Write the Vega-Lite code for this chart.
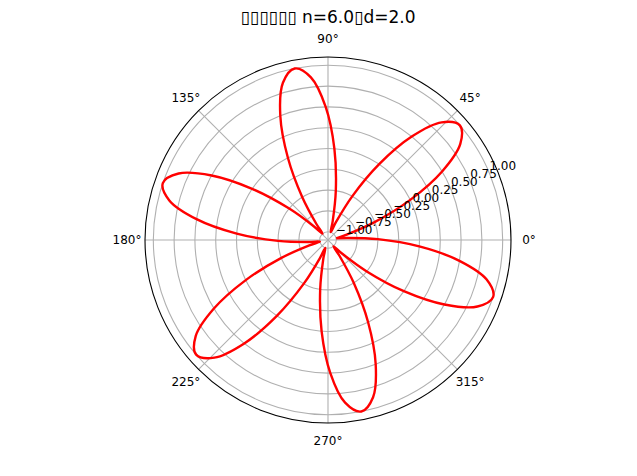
{
  "$schema": "https://vega.github.io/schema/vega-lite/v6.json",
  "width": 366,
  "height": 366,
  "autosize": {"type": "none"},
  "padding": {"left": 145, "top": 57, "right": 126, "bottom": 53},
  "background": "white",
  "config": {"view": {"stroke": null}, "font": "DejaVu Sans"},
  "title": {"text": "▯▯▯▯▯▯ n=6.0▯d=2.0", "font": "DejaVu Sans", "fontSize": 17, "fontWeight": "normal", "color": "#000000", "offset": 6},
  "datasets": {
    "rings": [{"r": -1.0}, {"r": -0.75}, {"r": -0.5}, {"r": -0.25}, {"r": 0.0}, {"r": 0.25}, {"r": 0.5}, {"r": 0.75}, {"r": 1.0}],
    "ticks": [
      {"r": -1.0, "label": "−1.00"}, {"r": -0.75, "label": "−0.75"}, {"r": -0.5, "label": "−0.50"},
      {"r": -0.25, "label": "−0.25"}, {"r": 0.0, "label": "0.00"}, {"r": 0.25, "label": "0.25"},
      {"r": 0.5, "label": "0.50"}, {"r": 0.75, "label": "0.75"}, {"r": 1.0, "label": "1.00"}
    ],
    "spokes": [
      {"x1": -2.2, "y1": 0, "x2": 2.2, "y2": 0},
      {"x1": 0, "y1": -2.2, "x2": 0, "y2": 2.2},
      {"x1": -1.5556, "y1": -1.5556, "x2": 1.5556, "y2": 1.5556},
      {"x1": -1.5556, "y1": 1.5556, "x2": 1.5556, "y2": -1.5556}
    ],
    "angles": [
      {"angle": 0, "label": "0°"}, {"angle": 45, "label": "45°"}, {"angle": 90, "label": "90°"},
      {"angle": 135, "label": "135°"}, {"angle": 180, "label": "180°"}, {"angle": 225, "label": "225°"},
      {"angle": 270, "label": "270°"}, {"angle": 315, "label": "315°"}
    ],
    "rose": [
      {"i": 0, "x": 0.0982, "y": 0.0191}, {"i": 1, "x": 0.2249, "y": 0.0645}, {"i": 2, "x": 0.5601, "y": 0.2150},
      {"i": 3, "x": 0.9887, "y": 0.4822}, {"i": 4, "x": 1.3715, "y": 0.8241}, {"i": 5, "x": 1.5905, "y": 1.1556},
      {"i": 6, "x": 1.5849, "y": 1.3777}, {"i": 7, "x": 1.3657, "y": 1.4142}, {"i": 8, "x": 1.0069, "y": 1.2434},
      {"i": 9, "x": 0.6151, "y": 0.9119}, {"i": 10, "x": 0.2909, "y": 0.5248}, {"i": 11, "x": 0.0952, "y": 0.2138},
      {"i": 12, "x": 0.0326, "y": 0.0946}, {"i": 13, "x": 0.0566, "y": 0.2271}, {"i": 14, "x": 0.0939, "y": 0.5926},
      {"i": 15, "x": 0.0767, "y": 1.0973}, {"i": 16, "x": -0.0279, "y": 1.5998}, {"i": 17, "x": -0.2055, "y": 1.9552},
      {"i": 18, "x": -0.4007, "y": 2.0614}, {"i": 19, "x": -0.5419, "y": 1.8898}, {"i": 20, "x": -0.5734, "y": 1.4937},
      {"i": 21, "x": -0.4822, "y": 0.9887}, {"i": 22, "x": -0.3090, "y": 0.5143}, {"i": 23, "x": -0.1375, "y": 0.1893},
      {"i": 24, "x": -0.0656, "y": 0.0755}, {"i": 25, "x": -0.1683, "y": 0.1626}, {"i": 26, "x": -0.4663, "y": 0.3776},
      {"i": 27, "x": -0.9119, "y": 0.6151}, {"i": 28, "x": -1.3994, "y": 0.7757}, {"i": 29, "x": -1.7960, "y": 0.7997},
      {"i": 30, "x": -1.9856, "y": 0.6837}, {"i": 31, "x": -1.9076, "y": 0.4756}, {"i": 32, "x": -1.5803, "y": 0.2503},
      {"i": 33, "x": -1.0973, "y": 0.0767}, {"i": 34, "x": -0.5999, "y": -0.0105}, {"i": 35, "x": -0.2327, "y": -0.0245},
      {"i": 36, "x": -0.0982, "y": -0.0191}, {"i": 37, "x": -0.2249, "y": -0.0645}, {"i": 38, "x": -0.5601, "y": -0.2150},
      {"i": 39, "x": -0.9887, "y": -0.4822}, {"i": 40, "x": -1.3715, "y": -0.8241}, {"i": 41, "x": -1.5905, "y": -1.1556},
      {"i": 42, "x": -1.5849, "y": -1.3777}, {"i": 43, "x": -1.3657, "y": -1.4142}, {"i": 44, "x": -1.0069, "y": -1.2434},
      {"i": 45, "x": -0.6151, "y": -0.9119}, {"i": 46, "x": -0.2909, "y": -0.5248}, {"i": 47, "x": -0.0952, "y": -0.2138},
      {"i": 48, "x": -0.0326, "y": -0.0946}, {"i": 49, "x": -0.0566, "y": -0.2271}, {"i": 50, "x": -0.0939, "y": -0.5926},
      {"i": 51, "x": -0.0767, "y": -1.0973}, {"i": 52, "x": 0.0279, "y": -1.5998}, {"i": 53, "x": 0.2055, "y": -1.9552},
      {"i": 54, "x": 0.4007, "y": -2.0614}, {"i": 55, "x": 0.5419, "y": -1.8898}, {"i": 56, "x": 0.5734, "y": -1.4937},
      {"i": 57, "x": 0.4822, "y": -0.9887}, {"i": 58, "x": 0.3090, "y": -0.5143}, {"i": 59, "x": 0.1375, "y": -0.1893},
      {"i": 60, "x": 0.0656, "y": -0.0755}, {"i": 61, "x": 0.1683, "y": -0.1626}, {"i": 62, "x": 0.4663, "y": -0.3776},
      {"i": 63, "x": 0.9119, "y": -0.6151}, {"i": 64, "x": 1.3994, "y": -0.7757}, {"i": 65, "x": 1.7960, "y": -0.7997},
      {"i": 66, "x": 1.9856, "y": -0.6837}, {"i": 67, "x": 1.9076, "y": -0.4756}, {"i": 68, "x": 1.5803, "y": -0.2503},
      {"i": 69, "x": 1.0973, "y": -0.0767}, {"i": 70, "x": 0.5999, "y": 0.0105}, {"i": 71, "x": 0.2327, "y": 0.0245},
      {"i": 72, "x": 0.0982, "y": 0.0191}
    ]
  },
  "layer": [
    {
      "data": {"name": "rings"},
      "mark": {"type": "arc", "theta": 0, "theta2": 6.2832, "filled": false, "stroke": "#b0b0b0", "strokeWidth": 1.1},
      "encoding": {
        "radius": {"field": "r", "type": "quantitative", "stack": null, "scale": {"type": "linear", "domain": [-1.1, 1.1], "range": [0, 183], "zero": false, "nice": false}},
        "radius2": {"datum": -1.1}
      }
    },
    {
      "data": {"name": "spokes"},
      "mark": {"type": "rule", "stroke": "#b0b0b0", "strokeWidth": 1.1},
      "encoding": {
        "x": {"field": "x1", "type": "quantitative", "scale": {"domain": [-2.2, 2.2], "nice": false, "zero": false}, "axis": null},
        "y": {"field": "y1", "type": "quantitative", "scale": {"domain": [-2.2, 2.2], "nice": false, "zero": false}, "axis": null},
        "x2": {"field": "x2"},
        "y2": {"field": "y2"}
      }
    },
    {
      "data": {"values": [{"edge": 1.1}]},
      "mark": {"type": "arc", "theta": 0, "theta2": 6.2832, "filled": false, "stroke": "#000000", "strokeWidth": 1.1},
      "encoding": {
        "radius": {"field": "edge", "type": "quantitative", "stack": null, "scale": {"type": "linear", "domain": [-1.1, 1.1], "range": [0, 183], "zero": false, "nice": false}},
        "radius2": {"datum": -1.1}
      }
    },
    {
      "data": {"name": "rose"},
      "mark": {"type": "line", "interpolate": "catmull-rom", "stroke": "#ff0000", "strokeWidth": 2.4},
      "encoding": {
        "x": {"field": "x", "type": "quantitative", "scale": {"domain": [-2.2, 2.2], "nice": false, "zero": false}, "axis": null},
        "y": {"field": "y", "type": "quantitative", "scale": {"domain": [-2.2, 2.2], "nice": false, "zero": false}, "axis": null},
        "order": {"field": "i", "type": "quantitative"}
      }
    },
    {
      "data": {"name": "angles"},
      "mark": {"type": "text", "font": "DejaVu Sans", "fontSize": 12, "color": "#000000", "align": "center", "baseline": "middle", "radiusOffset": 18},
      "encoding": {
        "theta": {"field": "angle", "type": "quantitative", "stack": null, "scale": {"type": "linear", "domain": [0, 360], "range": [1.5708, -4.7124], "zero": false, "nice": false}},
        "radius": {"datum": 1.1, "type": "quantitative", "scale": {"type": "linear", "domain": [-1.1, 1.1], "range": [0, 183], "zero": false, "nice": false}},
        "text": {"field": "label"}
      }
    },
    {
      "data": {"name": "ticks"},
      "mark": {"type": "text", "font": "DejaVu Sans", "fontSize": 12, "color": "#000000", "align": "left", "baseline": "bottom"},
      "encoding": {
        "theta": {"datum": 22.5, "type": "quantitative", "scale": {"type": "linear", "domain": [0, 360], "range": [1.5708, -4.7124], "zero": false, "nice": false}},
        "radius": {"field": "r", "type": "quantitative", "stack": null, "scale": {"type": "linear", "domain": [-1.1, 1.1], "range": [0, 183], "zero": false, "nice": false}},
        "text": {"field": "label"}
      }
    }
  ]
}
